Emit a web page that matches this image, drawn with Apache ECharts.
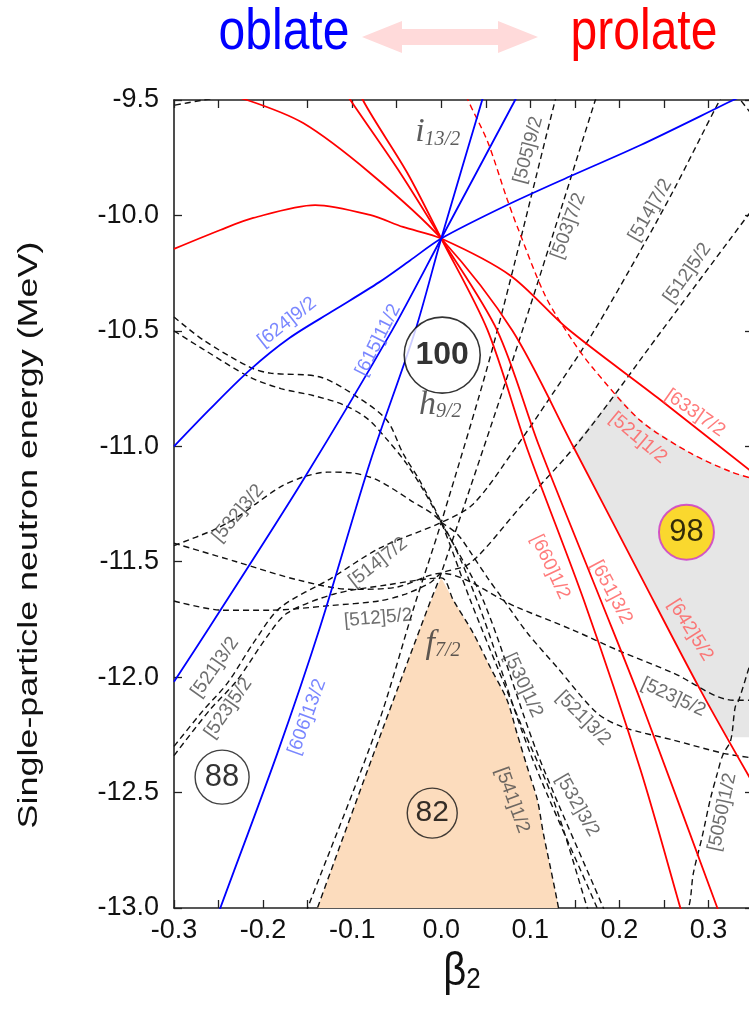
<!DOCTYPE html>
<html>
<head>
<meta charset="utf-8">
<script src="https://cdn.jsdelivr.net/npm/echarts@6/dist/echarts.min.js"></script>
<style>
  html, body { margin: 0; padding: 0; background: #ffffff; }
  #chart { width: 749px; height: 1020px; }
</style>
</head>
<body>
<div id="chart"></div>
<script>
// ---- axis ticks -------------------------------------------------------
const xTickLabels = ['-0.3', '-0.2', '-0.1', '0.0', '0.1', '0.2', '0.3'];
const yTickLabels = ['-9.5', '-10.0', '-10.5', '-11.0', '-11.5', '-12.0', '-12.5', '-13.0'];

// ---- i13/2 levels, oblate-favoured (blue) : [beta2, energy MeV] ------
const n624_9 = [[-0.30,-11.00],[-0.26,-10.84],[-0.215,-10.67],[-0.17,-10.53],[-0.12,-10.41],[-0.07,-10.29],[-0.035,-10.195],[0,-10.10],[0.074,-9.955],[0.148,-9.825],[0.224,-9.695],[0.328,-9.50],[0.35,-9.46]];
const n615_11 = [[-0.30,-12.02],[-0.26,-11.783],[-0.155,-11.146],[-0.055,-10.497],[0,-10.10],[0.083,-9.50],[0.095,-9.41]];
const n606_13 = [[-0.26,-13.13],[-0.248,-13.00],[-0.184,-12.33],[-0.136,-11.783],[-0.08,-11.07],[-0.029,-10.497],[0,-10.10],[0.046,-9.50],[0.055,-9.38]];

// ---- i13/2 levels, prolate-favoured (red) ----------------------------
const n660_1 = [[-0.10,-9.37],[-0.088,-9.50],[-0.038,-9.816],[0,-10.10],[0.052,-10.497],[0.097,-11.016],[0.16,-11.666],[0.2236,-12.40],[0.2685,-13.00],[0.275,-13.09]];
const n651_3 = [[-0.115,-9.42],[-0.102,-9.50],[-0.046,-9.816],[0,-10.10],[0.063,-10.50],[0.11,-11.00],[0.179,-11.666],[0.2236,-12.10],[0.31,-13.00],[0.32,-13.10]];
const n642_5 = [[-0.27,-9.45],[-0.218,-9.50],[-0.155,-9.60],[-0.08,-9.816],[0,-10.10],[0.08,-10.50],[0.148,-11.00],[0.2236,-11.56],[0.291,-12.056],[0.35,-12.46]];
const n633_7 = [[-0.30,-10.145],[-0.248,-10.063],[-0.211,-10.011],[-0.1416,-9.955],[-0.08,-9.998],[-0.043,-10.05],[0,-10.10],[0.0775,-10.26],[0.1416,-10.49],[0.243,-10.79],[0.35,-11.115]];
const n521_1 = [[0.02,-9.40],[0.03,-9.50],[0.052,-9.68],[0.074,-9.93],[0.0865,-10.06],[0.117,-10.35],[0.147,-10.54],[0.17,-10.66],[0.224,-10.89],[0.28,-11.03],[0.325,-11.11],[0.35,-11.14]];

// ---- negative-parity levels (black dashed) ---------------------------
const n505_9 = [[-0.16,-13.10],[-0.15,-13.00],[-0.072,-12.217],[-0.0306,-11.697],[0,-11.33],[0.058,-10.57],[0.128,-9.50],[0.135,-9.40]];
const n503_7 = [[-0.15,-13.12],[-0.139,-13.00],[-0.065,-12.217],[-0.0147,-11.697],[0,-11.55],[0.0865,-10.553],[0.173,-9.50],[0.18,-9.41]];
const n514_7 = [[-0.30,-12.30],[-0.267,-12.143],[-0.24,-12.026],[-0.211,-11.853],[-0.181,-11.70],[-0.125,-11.575],[-0.0685,-11.44],[0,-11.33],[0.036,-11.25],[0.081,-11.02],[0.122,-10.79],[0.17,-10.51],[0.224,-10.15],[0.261,-9.89],[0.31,-9.52],[0.33,-9.38]];
const n512_5 = [[-0.30,-11.67],[-0.245,-11.71],[-0.192,-11.71],[-0.125,-11.69],[-0.07,-11.67],[-0.04,-11.64],[-0.012,-11.59],[0,-11.55],[0.0326,-11.506],[0.0888,-11.263],[0.156,-10.973],[0.248,-10.497],[0.35,-9.97]];
const n541_1 = [[-0.30,-10.44],[-0.267,-10.54],[-0.215,-10.657],[-0.192,-10.683],[-0.136,-10.70],[-0.094,-10.787],[-0.061,-10.887],[-0.043,-11.03],[-0.024,-11.15],[0,-11.33],[0.0326,-11.666],[0.063,-11.957],[0.089,-12.20],[0.126,-12.533],[0.164,-13.00],[0.17,-13.08]];
const n532_3 = [[-0.30,-11.43],[-0.256,-11.363],[-0.229,-11.307],[-0.207,-11.246],[-0.181,-11.177],[-0.155,-11.133],[-0.128,-11.112],[-0.099,-11.116],[-0.072,-11.146],[-0.035,-11.233],[0,-11.33],[0.04,-11.666],[0.10,-12.33],[0.175,-13.00],[0.18,-13.05]];
const n530_1 = [[-0.30,-10.50],[-0.267,-10.58],[-0.215,-10.70],[-0.18,-10.75],[-0.144,-10.78],[-0.11,-10.82],[-0.083,-10.88],[-0.061,-10.97],[-0.04,-11.07],[-0.02,-11.19],[0,-11.33],[0.047,-11.666],[0.108,-12.33],[0.182,-13.00],[0.19,-13.08]];
const n541_1b = [[-0.30,-12.34],[-0.26,-12.143],[-0.229,-12.013],[-0.196,-11.827],[-0.173,-11.723],[-0.12,-11.64],[-0.06,-11.60],[0,-11.57],[0.0135,-11.666],[0.036,-11.81],[0.055,-11.957],[0.074,-12.10],[0.085,-12.243],[0.0966,-12.39],[0.108,-12.533],[0.1146,-12.676],[0.1225,-12.823],[0.13,-12.966],[0.134,-13.05]];
const n521_3 = [[0,-11.33],[0.018,-11.38],[0.033,-11.46],[0.052,-11.57],[0.07,-11.666],[0.097,-11.81],[0.13,-11.957],[0.175,-12.156],[0.2045,-12.217],[0.261,-12.273],[0.317,-12.33],[0.35,-12.35]];
const n523_5 = [[-0.30,-11.42],[-0.23,-11.50],[-0.16,-11.58],[-0.10,-11.62],[-0.05,-11.61],[0,-11.55],[0.085,-11.697],[0.148,-11.796],[0.198,-11.883],[0.261,-11.983],[0.328,-12.10],[0.35,-12.10]];
const n505_1 = [[0.262,-13.10],[0.2775,-13.00],[0.283,-12.85],[0.293,-12.69],[0.302,-12.53],[0.31,-12.416],[0.316,-12.338],[0.325,-12.273],[0.33,-12.13],[0.334,-12.10],[0.347,-11.94],[0.35,-11.90]];
const edgeTopLeft = [[-0.31,-9.53],[-0.267,-9.50],[-0.25,-9.49]];
const edgeTopRight = [[0.33,-9.47],[0.336,-9.50],[0.35,-9.57]];

// ---- shaded gap regions ----------------------------------------------
const gap82 = [[0,-11.57],[-0.0147,-11.697],[-0.065,-12.217],[-0.139,-13.00],[0.132,-13.00],[0.1225,-12.823],[0.1146,-12.676],[0.108,-12.533],[0.0966,-12.39],[0.085,-12.243],[0.074,-12.10],[0.055,-11.957],[0.036,-11.81],[0.0135,-11.666]];
const gap98 = [[0.15,-10.99],[0.196,-10.77],[0.224,-10.89],[0.28,-11.03],[0.325,-11.11],[0.35,-11.14],[0.35,-12.26],[0.321,-12.26],[0.291,-12.056],[0.2236,-11.56],[0.148,-11.00]];

// ---- shell-gap numbers -----------------------------------------------
const gapNumbers = ['100', '82', '88', '98'];
const gapCentres = [[0.0011,-10.605],[-0.0101,-12.589],[-0.246,-12.433],[0.2753,-11.372]];

// ---- orbital names and where they are written --------------------------
const orbitalNames = {
  blue: ['[624]9/2', '[615]11/2', '[606]13/2'],
  red: ['[633]7/2', '[521]1/2', '[660]1/2', '[651]3/2', '[642]5/2'],
  black: ['[505]9/2', '[503]7/2', '[514]7/2', '[512]5/2', '[532]3/2', '[514]7/2', '[512]5/2', '[521]3/2', '[523]5/2',
          '[530]1/2', '[521]3/2', '[523]5/2', '[541]1/2', '[532]3/2', '[5050]1/2']
};
const namePlaces = {
  blue: [[-0.173,-10.462,38],[-0.0708,-10.54,63],[-0.1506,-12.173,70]],
  red: [[0.285,-10.856,-35],[0.221,-10.964,-40],[0.1225,-11.523,-65],[0.191,-11.632,-62],[0.28,-11.796,-58]],
  black: [[0.0978,-9.717,75],[0.1427,-10.046,70],[0.2348,-9.977,60],[0.2764,-10.25,55],[-0.228,-11.29,50],[-0.0708,-11.502,38],
          [-0.0708,-11.744,5],[-0.254,-11.957,55],[-0.239,-12.134,55],[0.0921,-12.035,-65],[0.1596,-12.178,-45],[0.2607,-12.087,-25],
          [0.0798,-12.533,-70],[0.1528,-12.555,-60],[0.3157,-12.585,78]]
};
const shellNames = [['i', '13/2'], ['h', '9/2'], ['f', '7/2']];
const shellPlaces = [[-0.004,-9.64],[-0.001,-10.82],[0.002,-11.855]];

// -----------------------------------------------------------------------
const SANS = "'Liberation Sans', Arial, sans-serif";
const SERIF = "'Liberation Serif', 'DejaVu Serif', serif";
const BLUE = '#0000ff', RED = '#ff0000', INK = '#111111';

function curve(data, color, dashed) {
  return {
    type: 'line', data: data, showSymbol: false, symbol: 'none', smooth: 0.3,
    silent: true, clip: true, animation: false,
    lineStyle: { color: color, width: dashed ? 1.4 : 1.8, type: dashed ? [6, 4] : 'solid' },
    z: dashed ? 3 : 4
  };
}
function region(points, fill) {
  return {
    type: 'custom', silent: true, clip: true, animation: false, z: 1,
    data: [[0, -11]],
    renderItem: function (params, api) {
      return { type: 'polygon', shape: { points: points.map(p => api.coord(p)) }, style: { fill: fill } };
    }
  };
}
function nameLabels(names, places, color) {
  return {
    type: 'scatter', silent: true, animation: false, z: 6, symbolSize: 1,
    itemStyle: { color: 'transparent' },
    data: names.map((t, i) => ({
      value: [places[i][0], places[i][1]],
      label: { show: true, position: 'inside', formatter: t, rotate: places[i][2],
               color: color, fontSize: 19, fontFamily: SANS }
    }))
  };
}

const gapStyles = [
  { size: 76, fill: '#ffffff', border: '#000000', bw: 1.6, font: 32, weight: 'bold' },
  { size: 50, fill: 'transparent', border: '#111111', bw: 1.4, font: 30, weight: 'normal' },
  { size: 54, fill: 'transparent', border: '#111111', bw: 1.4, font: 31, weight: 'normal' },
  { size: 55, fill: '#ffd400', border: '#cc33cc', bw: 2, font: 31, weight: 'normal' }
];

const series = [
  region(gap82, '#fcdcbd'),
  region(gap98, '#e6e6e6'),
  curve(n505_9, INK, true), curve(n503_7, INK, true), curve(n514_7, INK, true), curve(n512_5, INK, true),
  curve(n541_1, INK, true), curve(n532_3, INK, true), curve(n530_1, INK, true), curve(n541_1b, INK, true),
  curve(n521_3, INK, true), curve(n523_5, INK, true), curve(n505_1, INK, true),
  curve(edgeTopLeft, INK, true), curve(edgeTopRight, INK, true),
  curve(n521_1, RED, true),
  curve(n660_1, RED, false), curve(n651_3, RED, false), curve(n642_5, RED, false), curve(n633_7, RED, false),
  curve(n624_9, BLUE, false), curve(n615_11, BLUE, false), curve(n606_13, BLUE, false),
  nameLabels(orbitalNames.blue, namePlaces.blue, '#5868ff'),
  nameLabels(orbitalNames.red, namePlaces.red, '#ff5a5a'),
  nameLabels(orbitalNames.black, namePlaces.black, '#4a4a4a'),
  {
    type: 'scatter', silent: true, animation: false, z: 7, symbolSize: 1,
    itemStyle: { color: 'transparent' },
    data: shellNames.map((s, i) => ({
      value: shellPlaces[i],
      label: {
        show: true, position: 'inside', formatter: '{a|' + s[0] + '}{b|' + s[1] + '}',
        rich: {
          a: { fontFamily: SERIF, fontStyle: 'italic', fontSize: 34, color: '#333' },
          b: { fontFamily: SERIF, fontStyle: 'italic', fontSize: 20, color: '#333', verticalAlign: 'bottom' }
        }
      }
    }))
  },
  {
    type: 'scatter', silent: true, animation: false, z: 8, symbol: 'circle',
    data: gapNumbers.map((t, i) => ({
      value: gapCentres[i],
      symbolSize: gapStyles[i].size,
      itemStyle: { color: gapStyles[i].fill, borderColor: gapStyles[i].border, borderWidth: gapStyles[i].bw },
      label: { show: true, position: 'inside', formatter: t, color: '#000', fontFamily: SANS,
               fontSize: gapStyles[i].font, fontWeight: gapStyles[i].weight }
    }))
  }
];

const axisLine = { show: true, onZero: false, lineStyle: { color: '#222', width: 1.6 } };
const tick = { show: true, inside: true, length: 8, lineStyle: { color: '#222', width: 1.3 } };

const option = {
  animation: false,
  backgroundColor: '#ffffff',
  grid: { left: 174, right: -4, top: 100, bottom: 112, outerBoundsMode: 'none', containLabel: false },
  xAxis: [
    { type: 'value', position: 'bottom', min: -0.3, max: 0.35, interval: 0.05,
      axisLine: axisLine, axisTick: tick, splitLine: { show: false },
      axisLabel: { show: true, margin: 9, fontSize: 27, color: '#111', fontFamily: SANS, showMaxLabel: false,
        formatter: function (v) {
          const k = Math.round(v * 10);
          if (Math.abs(v * 10 - k) > 1e-6) return '';
          const i = k + 3;
          return xTickLabels[i] !== undefined ? xTickLabels[i] : '';
        } } },
    { type: 'value', position: 'top', min: -0.3, max: 0.35, interval: 0.05,
      axisLine: axisLine, axisTick: tick, splitLine: { show: false }, axisLabel: { show: false } }
  ],
  yAxis: [
    { type: 'value', position: 'left', min: -13, max: -9.5, interval: 0.5,
      axisLine: axisLine, axisTick: tick, splitLine: { show: false },
      axisLabel: { show: true, margin: 15, fontSize: 27, color: '#111', fontFamily: SANS,
        formatter: function (v) {
          const i = Math.round((-9.5 - v) / 0.5);
          return yTickLabels[i] !== undefined ? yTickLabels[i] : '';
        } } },
    { type: 'value', position: 'right', min: -13, max: -9.5, interval: 0.5,
      axisLine: axisLine, axisTick: tick, splitLine: { show: false }, axisLabel: { show: false } }
  ],
  graphic: [
    { type: 'polygon', z: 10, silent: true,
      shape: { points: [[362,37],[402,21],[402,29],[498,29],[498,21],[538,37],[498,53],[498,45],[402,45],[402,53]] },
      style: { fill: '#ffdada' } },
    { type: 'text', z: 10, silent: true, x: 284, y: 62, scaleY: 1.2,
      style: { text: 'oblate', fill: BLUE, font: '48px ' + SANS, textAlign: 'center', textVerticalAlign: 'bottom' } },
    { type: 'text', z: 10, silent: true, x: 644, y: 62, scaleY: 1.2,
      style: { text: 'prolate', fill: RED, font: '48px ' + SANS, textAlign: 'center', textVerticalAlign: 'bottom' } },
    { type: 'text', z: 10, silent: true, x: 30, y: 535, rotation: Math.PI / 2, scaleX: 1.33,
      style: { text: 'Single-particle neutron energy (MeV)', fill: '#111', font: '27px ' + SANS,
               textAlign: 'center', textVerticalAlign: 'middle' } },
    { type: 'text', z: 10, silent: true, x: 462, y: 972, scaleY: 1.15,
      style: { text: '{b|β}{s|2}', textAlign: 'center', textVerticalAlign: 'middle',
               rich: { b: { fontSize: 40, fontFamily: SANS, fill: '#111' },
                       s: { fontSize: 26, fontFamily: SANS, fill: '#111', verticalAlign: 'bottom' } } } }
  ],
  series: series
};

const chart = echarts.init(document.getElementById('chart'), null, { renderer: 'canvas', width: 749, height: 1020 });
chart.setOption(option);
</script>
</body>
</html>
